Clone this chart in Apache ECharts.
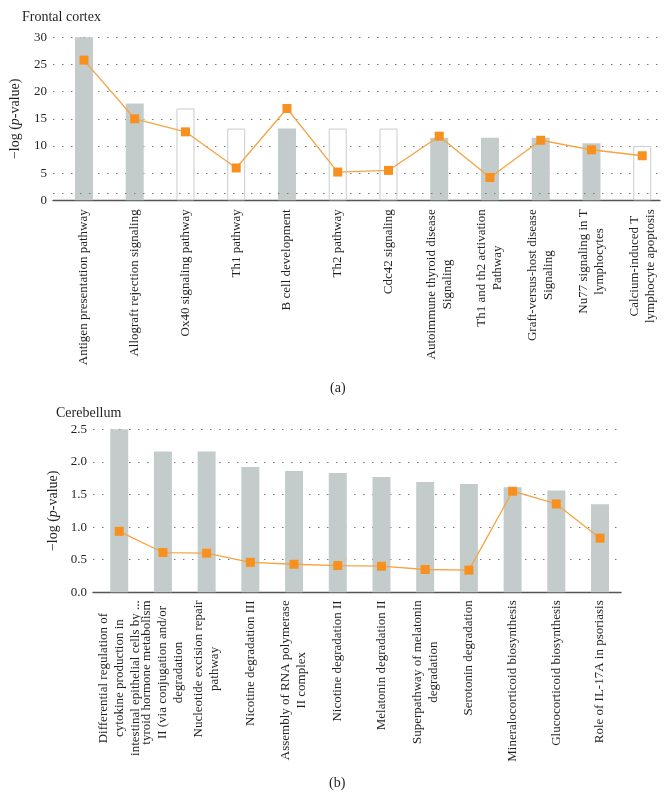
<!DOCTYPE html>
<html><head><meta charset="utf-8">
<script src="https://cdn.jsdelivr.net/npm/echarts@6/dist/echarts.min.js"></script>
<style>html,body{margin:0;padding:0;background:#fff}#c{width:668px;height:809px}</style>
</head><body><div id="c"></div>
<script>
// ---- Data ----
const topCategories = [
  'Antigen presentation pathway',
  'Allograft rejection signaling',
  'Ox40 signaling pathway',
  'Th1 pathway',
  'B cell development',
  'Th2 pathway',
  'Cdc42 signaling',
  'Autoimmune thyroid disease\nSignaling',
  'Th1 and th2 activation\nPathway',
  'Graft-versus-host disease\nSignaling',
  'Nu77 signaling in T\nlymphocytes',
  'Calcium-induced T\nlymphocyte apoptosis'
];
const topBars = [30, 17.8, 16.9, 13.2, 13.2, 13.2, 13.2, 11.5, 11.5, 11.5, 10.5, 10.0];
const topShared = [true, true, false, false, true, false, false, true, true, true, true, false];
const topLine = [25.8, 15.0, 12.6, 5.95, 16.9, 5.2, 5.5, 11.8, 4.2, 11.05, 9.3, 8.2];
const topTicks = [0, 5, 10, 15, 20, 25, 30];
const topThreshold = 1.3;

const botCategories = [
  'Differential regulation of\ncytokine production in\nintestinal epithelial cells by ...',
  'tyroid hormone metabolism\nII (via conjugation and/or\ndegradation',
  'Nucleotide excision repair\npathway',
  'Nicotine degradation III',
  'Assembly of RNA polymerase\nII complex',
  'Nicotine degradation II',
  'Melatonin degradation II',
  'Superpathway of melatonin\ndegradation',
  'Serotonin degradation',
  'Mineralocorticoid biosynthesis',
  'Glucocorticoid biosynthesis',
  'Role of IL-17A in psoriasis'
];
const botBars = [2.5, 2.16, 2.16, 1.92, 1.86, 1.83, 1.77, 1.69, 1.66, 1.61, 1.56, 1.35];
const botLine = [0.935, 0.61, 0.60, 0.46, 0.43, 0.41, 0.40, 0.35, 0.34, 1.55, 1.355, 0.83];
const botTicks = [0, 0.5, 1.0, 1.5, 2.0, 2.5];

// ---- Styles ----
const FONT = '"Liberation Serif", "DejaVu Serif", serif';
const TXT = '#231f20';
const BAR = '#c3cccb';
const ORANGE = '#f7901e';
const LINEC = '#f5a443';
const dotted = { type: [1.5, 7.5], color: '#7a7a7a', width: 1 };

function richLabel(s) {
  return s.split('\n').map(l => '{c|' + l + '}').join('\n');
}
const idx = a => a.map((_, i) => i);

const chart = echarts.init(document.getElementById('c'), null, { renderer: 'canvas' });

const yName = '\u2212log ({i|p}-value)';
const yNameStyle = { fontFamily: FONT, fontSize: 14, color: TXT, rich: { i: { fontFamily: FONT, fontSize: 14, fontStyle: 'italic', color: TXT } } };

function xAxisCfg(gridIndex, cats, min, max, margin) {
  return {
    type: 'value', gridIndex, min, max,
    splitLine: { show: false }, axisTick: { show: false },
    axisLine: { show: true, lineStyle: { color: '#555', width: 1.3 } },
    axisLabel: {
      // leading empty label at the axis start keeps the first category label visible
      customValues: [min].concat(idx(cats)), rotate: 90, margin,
      hideOverlap: false,
      formatter: v => (Number.isInteger(v) && cats[v]) ? richLabel(cats[v]) : '',
      fontFamily: FONT, fontSize: 13, color: TXT,
      rich: { c: { align: 'center', fontFamily: FONT, fontSize: 13, lineHeight: 16, color: TXT } }
    }
  };
}
function yAxisCfg(gridIndex, ticks, fmt) {
  return {
    type: 'value', gridIndex, min: ticks[0], max: ticks[ticks.length - 1],
    interval: ticks[1] - ticks[0],
    name: yName, nameLocation: 'middle', nameGap: 31, nameTextStyle: yNameStyle,
    axisLine: { show: true, lineStyle: { color: '#555', width: 1.3 } },
    axisTick: { show: false },
    splitLine: { show: true, lineStyle: dotted },
    axisLabel: { fontFamily: FONT, fontSize: 13, color: TXT, margin: 6, formatter: fmt, showMinLabel: true }
  };
}

chart.setOption({
  animation: false,
  backgroundColor: '#fff',
  title: [
    { text: 'Frontal cortex', left: 17, top: 5, textStyle: { fontFamily: FONT, fontSize: 14, fontWeight: 'normal', color: TXT } },
    { text: 'Cerebellum', left: 51, top: 401, textStyle: { fontFamily: FONT, fontSize: 14, fontWeight: 'normal', color: TXT } },
    { text: '(a)', left: 325, top: 376, textStyle: { fontFamily: FONT, fontSize: 14, fontWeight: 'normal', color: TXT } },
    { text: '(b)', left: 324, top: 771, textStyle: { fontFamily: FONT, fontSize: 14, fontWeight: 'normal', color: TXT } }
  ],
  grid: [
    { left: 52, right: 8, top: 37.3, height: 163 },
    { left: 93, right: 47, top: 429.3, height: 163 }
  ],
  xAxis: [
    xAxisCfg(0, topCategories, -0.61, 11.35, 9),
    xAxisCfg(1, botCategories, -0.6, 11.48, 8)
  ],
  yAxis: [
    yAxisCfg(0, topTicks, v => String(v)),
    yAxisCfg(1, botTicks, v => v.toFixed(1))
  ],
  series: [
    {
      type: 'bar', xAxisIndex: 0, yAxisIndex: 0, barWidth: 18,
      data: topBars.map((v, i) => ({
        value: [i, v],
        itemStyle: topShared[i] ? { color: BAR } : { color: '#fff', borderColor: '#c8cccc', borderWidth: 1 }
      })),
      markLine: { silent: true, symbol: 'none', label: { show: false }, lineStyle: dotted, data: [{ yAxis: topThreshold }] }
    },
    {
      type: 'line', xAxisIndex: 0, yAxisIndex: 0, z: 5,
      data: topLine.map((v, i) => [i, v]),
      symbol: 'rect', symbolSize: 9,
      itemStyle: { color: ORANGE },
      lineStyle: { color: LINEC, width: 1.3 }
    },
    {
      type: 'bar', xAxisIndex: 1, yAxisIndex: 1, barWidth: 18,
      data: botBars.map((v, i) => [i, v]),
      itemStyle: { color: BAR }
    },
    {
      type: 'line', xAxisIndex: 1, yAxisIndex: 1, z: 5,
      data: botLine.map((v, i) => [i, v]),
      symbol: 'rect', symbolSize: 9,
      itemStyle: { color: ORANGE },
      lineStyle: { color: LINEC, width: 1.3 }
    }
  ]
});
</script>
</body></html>
